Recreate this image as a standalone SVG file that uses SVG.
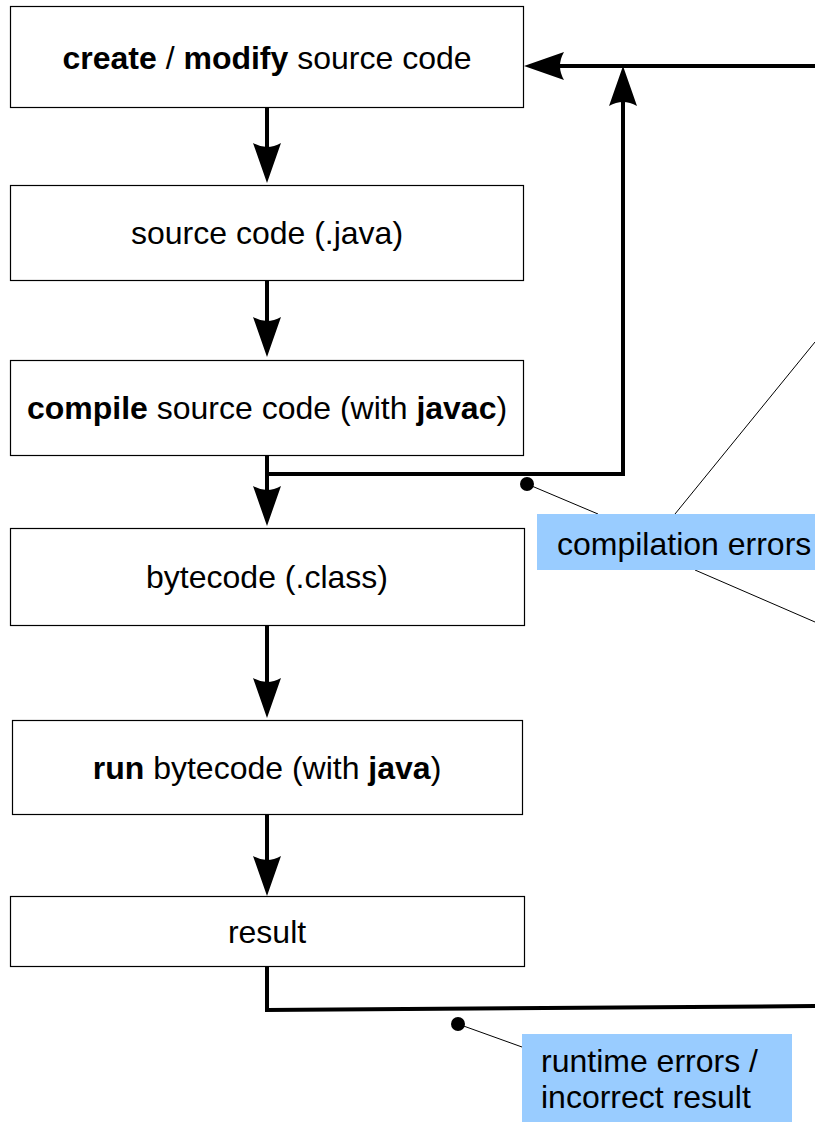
<svg xmlns="http://www.w3.org/2000/svg" width="815" height="1122" viewBox="0 0 815 1122">
<style>
.box{fill:#fff;stroke:#000;stroke-width:1.2}
.t{font-family:"Liberation Sans",Arial,sans-serif;font-size:32px;fill:#000}
.c{text-anchor:middle}
.b{font-weight:bold}
.conn{fill:none;stroke:#000;stroke-width:4}
.call{fill:none;stroke:#000;stroke-width:1}
.lbl{fill:#99ccff}
</style>
<defs>
<marker id="ah" viewBox="0 0 40 28" markerWidth="40" markerHeight="28" markerUnits="userSpaceOnUse" refX="4" refY="14" orient="auto">
<path d="M0,0 L40,14 L0,28 Q8,14 0,0 Z" fill="#000"/>
</marker>
</defs>
<rect width="815" height="1122" fill="#fff"/>
<g id="connectors">
<path class="conn" d="M267,108 V147" marker-end="url(#ah)"/>
<path class="conn" d="M267,280 V321" marker-end="url(#ah)"/>
<path class="conn" d="M267,455 V490" marker-end="url(#ah)"/>
<path class="conn" d="M267,625 V682" marker-end="url(#ah)"/>
<path class="conn" d="M267,814 V860" marker-end="url(#ah)"/>
<path class="conn" d="M267,474 H623 V102" marker-end="url(#ah)"/>
<path class="conn" d="M818,66 H560" marker-end="url(#ah)"/>
<path class="conn" d="M818,66 V1006"/>
<path class="conn" d="M267,966 V1010 L818,1006"/>
</g>
<g id="node-create">
<rect class="box" x="10.5" y="6.5" width="513" height="101"/>
<text class="t c" x="267" y="69"><tspan class="b">create</tspan> / <tspan class="b">modify</tspan> source code</text>
</g>
<g id="node-source">
<rect class="box" x="10.5" y="185.5" width="513" height="95"/>
<text class="t c" x="267" y="244">source code (.java)</text>
</g>
<g id="node-compile">
<rect class="box" x="10.5" y="360.5" width="513" height="95"/>
<text class="t c" x="267" y="419"><tspan class="b">compile</tspan> source code (with <tspan class="b">javac</tspan>)</text>
</g>
<g id="node-bytecode">
<rect class="box" x="10.5" y="528.5" width="514" height="97"/>
<text class="t c" x="267" y="588">bytecode (.class)</text>
</g>
<g id="node-run">
<rect class="box" x="12.5" y="720.5" width="510" height="94"/>
<text class="t c" x="267" y="779"><tspan class="b">run</tspan> bytecode (with <tspan class="b">java</tspan>)</text>
</g>
<g id="node-result">
<rect class="box" x="10.5" y="896.5" width="514" height="70"/>
<text class="t c" x="267" y="943">result</text>
</g>
<g id="label-compilation">
<line class="call" x1="527" y1="484" x2="598" y2="514"/>
<line class="call" x1="675" y1="514" x2="815" y2="342"/>
<line class="call" x1="695" y1="570" x2="815" y2="622"/>
<circle cx="527" cy="484" r="7" fill="#000"/>
<rect class="lbl" x="537" y="514" width="280" height="56"/>
<text class="t" x="557" y="555">compilation errors</text>
</g>
<g id="label-runtime">
<line class="call" x1="458" y1="1024" x2="522" y2="1047"/>
<circle cx="458" cy="1024" r="7" fill="#000"/>
<rect class="lbl" x="522" y="1034" width="270" height="90"/>
<text class="t" x="541" y="1072">runtime errors /</text>
<text class="t" x="541" y="1108">incorrect result</text>
</g>
</svg>
